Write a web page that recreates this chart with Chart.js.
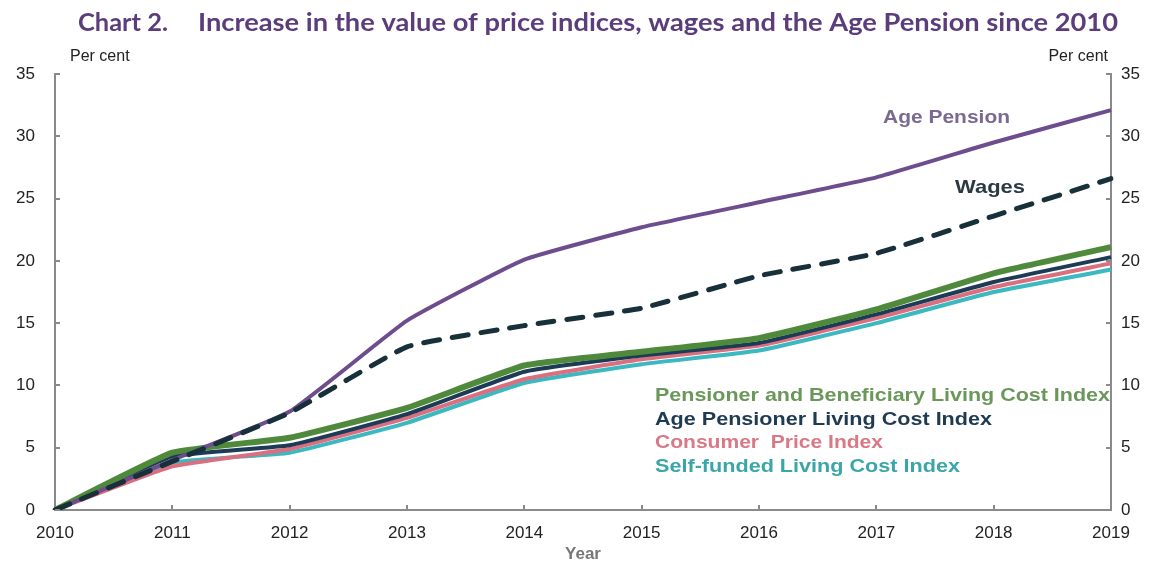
<!DOCTYPE html>
<html>
<head>
<meta charset="utf-8">
<script src="https://cdn.jsdelivr.net/npm/chart.js@4/dist/chart.umd.min.js"></script>
<style>
  html, body { margin: 0; padding: 0; background: #fff; }
  #wrap { width: 1156px; height: 566px; position: relative; }
</style>
</head>
<body>
<div id="wrap"><canvas id="chart"></canvas></div>
<script>
var years = ['2010','2011','2012','2013','2014','2015','2016','2017','2018','2019'];

var agePension = [0, 4.0, 7.9, 15.2, 20.1, 22.7, 24.7, 26.7, 29.5, 32.1];
var wages      = [0, 3.9, 7.8, 13.1, 14.8, 16.2, 18.8, 20.6, 23.6, 26.6];
var pblci      = [0, 4.6, 5.8, 8.2, 11.6, 12.7, 13.8, 16.1, 19.0, 21.1];
var aplci      = [0, 4.3, 5.2, 7.7, 11.1, 12.4, 13.4, 15.7, 18.3, 20.3];
var cpi        = [0, 3.5, 4.9, 7.4, 10.5, 12.1, 13.2, 15.4, 17.9, 19.8];
var sflci      = [0, 3.8, 4.6, 7.0, 10.2, 11.7, 12.8, 15.0, 17.5, 19.3];

var yTicks = [0, 5, 10, 15, 20, 25, 30, 35];

var TITLE_COLOR = '#5c3d7c';
var AXIS_COLOR = '#8a8a8a';

function line(label, data, color, width, dash){
	return {
		label: label,
		data: data,
		borderColor: color,
		backgroundColor: color,
		borderWidth: width,
		borderDash: dash || [],
		borderCapStyle: dash ? 'round' : 'butt',
		pointRadius: 0,
		tension: 0.12,
		fill: false
	};
}

// draw text squeezed/stretched to a given width
function fitText(ctx, txt, x, y, w){
	var m = ctx.measureText(txt).width;
	ctx.save();
	ctx.translate(x, y);
	ctx.scale(w / m, 1);
	ctx.fillText(txt, 0, 0);
	ctx.restore();
}

// text, inward tick marks, per cent labels
var decor = {
	id: 'decor',
	afterDraw: function(chart){
		var ctx = chart.ctx;
		var area = chart.chartArea;
		ctx.save();

		// title
		ctx.fillStyle = TITLE_COLOR;
		ctx.textBaseline = 'alphabetic';
		ctx.textAlign = 'left';
		ctx.font = 'bold 25px Lato';
		fitText(ctx, 'Chart 2.', 78, 31, 90);
		fitText(ctx, 'Increase in the value of price indices, wages and the Age Pension since 2010', 198, 31, 920);

		// per cent
		ctx.fillStyle = '#222';
		ctx.font = '16px "Liberation Sans"';
		ctx.textBaseline = 'middle';
		ctx.textAlign = 'left';
		ctx.fillText('Per cent', 70, 57);
		ctx.textAlign = 'right';
		ctx.fillText('Per cent', 1108, 57);

		// inward ticks
		ctx.strokeStyle = AXIS_COLOR;
		ctx.lineWidth = 2;
		var y = chart.scales.y;
		yTicks.forEach(function(v){
			var py = Math.round(y.getPixelForValue(v));
			ctx.beginPath();
			ctx.moveTo(area.left, py); ctx.lineTo(area.left + 5, py);
			ctx.moveTo(area.right, py); ctx.lineTo(area.right - 5, py);
			ctx.stroke();
		});
		var x = chart.scales.x;
		for (var i = 1; i < years.length - 1; i++) {
			var px = Math.round(x.getPixelForValue(i));
			ctx.beginPath();
			ctx.moveTo(px, area.bottom); ctx.lineTo(px, area.bottom - 5);
			ctx.stroke();
		}

		// series labels
		ctx.textAlign = 'left';
		ctx.textBaseline = 'middle';
		ctx.font = 'bold 19px "Liberation Sans"';
		ctx.fillStyle = '#7a6a92';
		fitText(ctx, 'Age Pension', 883, 118, 127);
		ctx.fillStyle = '#2b3a42';
		fitText(ctx, 'Wages', 955, 188, 70);

		var legend = [
			['Pensioner and Beneficiary Living Cost Index', '#6a985a', 396, 455],
			['Age Pensioner Living Cost Index', '#1f3b52', 420, 337],
			['Consumer  Price Index', '#d97886', 443, 228],
			['Self-funded Living Cost Index', '#3aa6a8', 467, 305]
		];
		legend.forEach(function(l){
			ctx.fillStyle = l[1];
			fitText(ctx, l[0], 655, l[2], l[3]);
		});
		ctx.restore();
	}
};

var ctx = document.getElementById('chart').getContext('2d');
var chart = new Chart(ctx, {
	type: 'line',
	data: {
		labels: years,
		datasets: [
			line('Wages', wages, '#17303a', 5, [16, 13]),
			line('Age Pension', agePension, '#6e4d8f', 4),
			line('Pensioner and Beneficiary Living Cost Index', pblci, '#4f8a3c', 6),
			line('Age Pensioner Living Cost Index', aplci, '#1d3b56', 4),
			line('Consumer Price Index', cpi, '#d96f7f', 4),
			line('Self-funded Living Cost Index', sflci, '#3bb8c0', 4)
		]
	},
	options: {
		responsive: true,
		maintainAspectRatio: false,
		animation: false,
		layout: { padding: { top: 74, left: 0, right: 0, bottom: 0 } },
		plugins: {
			legend: { display: false },
			tooltip: { enabled: false },
			title: { display: false }
		},
		scales: {
			x: {
				type: 'category',
				offset: false,
				grid: { display: false, drawTicks: false },
				border: { display: true, color: AXIS_COLOR, width: 2 },
				ticks: { color: '#222', font: { family: 'Liberation Sans', size: 17 }, padding: 13, maxRotation: 0, autoSkip: false },
				title: { display: true, text: 'Year', color: '#777', font: { family: 'Liberation Sans', size: 17, weight: 'bold' }, padding: { top: 0, bottom: 1 } },
				afterFit: function(s){ s.height = 56; }
			},
			y: {
				position: 'left',
				min: 0, max: 35,
				grid: { display: false, drawTicks: false },
				border: { display: true, color: AXIS_COLOR, width: 2 },
				ticks: { stepSize: 5, color: '#222', font: { family: 'Liberation Sans', size: 17 }, padding: 20 },
				afterFit: function(s){ s.width = 55; }
			},
			y2: {
				position: 'right',
				min: 0, max: 35,
				grid: { display: false, drawTicks: false },
				border: { display: true, color: AXIS_COLOR, width: 2 },
				ticks: { stepSize: 5, color: '#222', font: { family: 'Liberation Sans', size: 17 }, padding: 10 },
				afterFit: function(s){ s.width = 45; }
			}
		}
	},
	plugins: [decor]
});
</script>
</body>
</html>
